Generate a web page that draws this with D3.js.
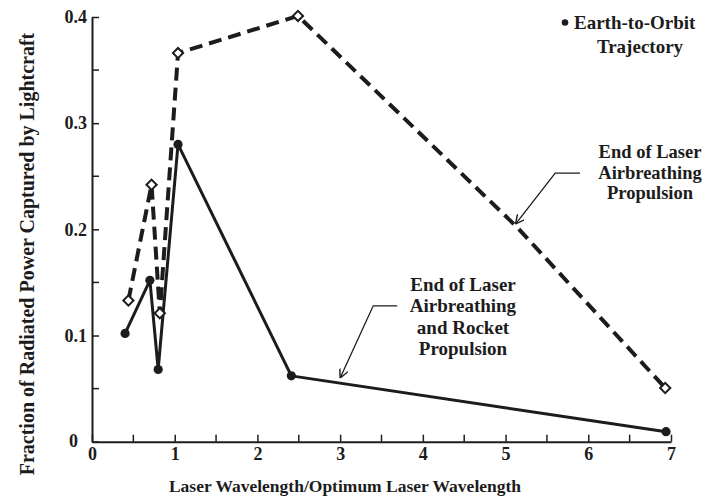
<!DOCTYPE html>
<html><head><meta charset="utf-8">
<script src="https://cdn.jsdelivr.net/npm/d3@7"></script>
<style>
html,body{margin:0;padding:0;background:#fff;}
svg{display:block;}
text{font-family:"Liberation Serif","Times New Roman",serif;font-weight:bold;fill:#1c1c1c;}
</style></head>
<body>
<script>
// ---- data ----
const solidX = [0.40, 0.70, 0.80, 1.04, 2.41, 6.94];
const solidY = [0.102, 0.152, 0.068, 0.280, 0.062, 0.0094];
const dashX = [0.44, 0.72, 0.82, 1.04, 2.49, 5.14, 6.93];
const dashY = [0.133, 0.242, 0.121, 0.366, 0.401, 0.202, 0.0506];
const dashMarked = [true, true, true, true, true, false, true];
const xTicks = [0, 1, 2, 3, 4, 5, 6, 7];
const yTicks = [0, 0.1, 0.2, 0.3, 0.4];
const xMinor = [0.5, 1.5, 2.5, 3.5, 4.5, 5.5, 6.5];
const yMinor = [0.05, 0.15, 0.25, 0.35];
const xTitle = "Laser Wavelength/Optimum Laser Wavelength";
const yTitle = "Fraction of Radiated Power Captured by Lightcraft";
const legendLines = ["Earth-to-Orbit", "Trajectory"];
const note1 = ["End of Laser", "Airbreathing", "Propulsion"];
const note2 = ["End of Laser", "Airbreathing", "and Rocket", "Propulsion"];

const W = 706, H = 497;
const ink = "#1c1c1c";
const svg = d3.select("body").append("svg").attr("width", W).attr("height", H);
svg.append("rect").attr("width", W).attr("height", H).attr("fill", "#fff");

const x = d3.scaleLinear().domain([0, 7]).range([92, 671]);
const y = d3.scaleLinear().domain([0, 0.4]).range([441.7, 17]);

// axes
const gx = svg.append("g").attr("transform", `translate(0,${y(0)})`)
  .call(d3.axisBottom(x).tickValues(xTicks).tickSizeInner(-7).tickSizeOuter(0).tickPadding(5)
  .tickFormat(d3.format("d")));
gx.select(".domain").attr("stroke", ink).attr("stroke-width", 2);
gx.selectAll(".tick line").attr("stroke", ink).attr("stroke-width", 1.5);
gx.selectAll(".tick text").attr("font-size", 18).attr("font-family", "Liberation Serif").attr("font-weight", "bold").attr("fill", ink).attr("dy", "0.75em");
gx.selectAll(".minor").data(xMinor).enter().append("line")
  .attr("x1", d => x(d)).attr("x2", d => x(d)).attr("y1", 0).attr("y2", -7)
  .attr("stroke", ink).attr("stroke-width", 1.5);

const gy = svg.append("g").attr("transform", `translate(${x(0)},0)`)
  .call(d3.axisLeft(y).tickValues(yTicks).tickSizeInner(-7).tickSizeOuter(0).tickPadding(5)
  .tickFormat(d => d === 0 ? "0" : d3.format(".1f")(d)));
gy.select(".domain").attr("stroke", ink).attr("stroke-width", 2);
gy.selectAll(".tick line").attr("stroke", ink).attr("stroke-width", 1.5);
gy.selectAll(".tick text").attr("font-size", 18).attr("font-family", "Liberation Serif").attr("font-weight", "bold").attr("fill", ink);
gy.selectAll(".tick").filter(d => d === 0).select("text").attr("x", -14).attr("dy", "0.25em");
gy.selectAll(".minor").data(yMinor).enter().append("line")
  .attr("x1", 0).attr("x2", 7).attr("y1", d => y(d)).attr("y2", d => y(d))
  .attr("stroke", ink).attr("stroke-width", 1.5);

// titles
svg.append("text").attr("x", 345).attr("y", 492).attr("text-anchor", "middle")
  .attr("font-size", 17.5).text(xTitle);
svg.append("text").attr("transform", "translate(34,254) rotate(-90)").attr("text-anchor", "middle")
  .attr("font-size", 20).text(yTitle);

// lines
const solidData = solidX.map((v, i) => [v, solidY[i]]);
const dashData = dashX.map((v, i) => [v, dashY[i], dashMarked[i]]);
const line = d3.line().x(d => x(d[0])).y(d => y(d[1]));

svg.append("path").datum(dashData).attr("d", line).attr("fill", "none")
  .attr("stroke", ink).attr("stroke-width", 4).attr("stroke-dasharray", "13,7");
svg.append("path").datum(solidData).attr("d", line).attr("fill", "none")
  .attr("stroke", ink).attr("stroke-width", 3).attr("stroke-linejoin", "round");

// markers
svg.selectAll(".dia").data(dashData.filter(d => d[2])).enter().append("path")
  .attr("d", d3.symbol().type(d3.symbolSquare).size(52))
  .attr("transform", d => `translate(${x(d[0])},${y(d[1])}) rotate(45)`)
  .attr("fill", "#fff").attr("stroke", ink).attr("stroke-width", 2);
svg.selectAll(".dot").data(solidData).enter().append("circle")
  .attr("cx", d => x(d[0])).attr("cy", d => y(d[1])).attr("r", 4.6).attr("fill", ink);

// annotations (anchored in data units)
const defs = svg.append("defs");
defs.append("marker").attr("id", "arr").attr("viewBox", "0 0 10 10").attr("refX", 10).attr("refY", 5)
  .attr("markerWidth", 9).attr("markerHeight", 9).attr("markerUnits", "userSpaceOnUse").attr("orient", "auto")
  .append("path").attr("d", "M0,0 L10,5 L0,10").attr("fill", "none").attr("stroke", ink).attr("stroke-width", 1.6);

const leaders = [
  [[5.90, 0.253], [5.60, 0.253], [5.12, 0.205]],
  [[3.69, 0.128], [3.40, 0.128], [3.00, 0.060]]
];
leaders.forEach(p => {
  svg.append("path").attr("d", line(p)).attr("fill", "none").attr("stroke", ink)
    .attr("stroke-width", 1.3).attr("marker-end", "url(#arr)");
});

function block(lines, cx, y0, dy, fs) {
  const t = svg.append("text").attr("text-anchor", "middle").attr("font-size", fs);
  lines.forEach((s, i) => t.append("tspan").attr("x", cx).attr("y", y0 + i * dy).text(s));
}
block(note1, 650, 158, 20.5, 18.5);
block(note2, 463, 291, 21.3, 19);

// legend
svg.append("circle").attr("cx", 565).attr("cy", 22.5).attr("r", 3.3).attr("fill", ink);
svg.append("text").attr("x", 574).attr("y", 29).attr("font-size", 19).text(legendLines[0]);
svg.append("text").attr("x", 640).attr("y", 53).attr("text-anchor", "middle").attr("font-size", 19).text(legendLines[1]);
</script>
</body></html>
